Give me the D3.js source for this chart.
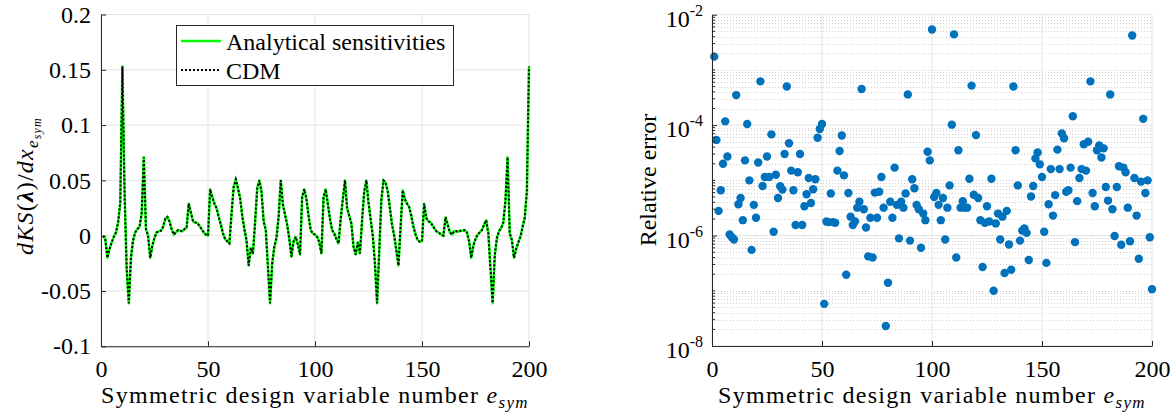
<!DOCTYPE html>
<html><head><meta charset="utf-8">
<script src="https://cdn.jsdelivr.net/npm/d3@7/dist/d3.min.js"></script>
<style>
html,body{margin:0;padding:0;background:#fff;}
svg{display:block;font-family:'Liberation Serif','Times New Roman',serif;}
</style></head>
<body>
<svg id="chart" width="1176" height="414"></svg>
<script>
// ---------- data ----------
// design variable numbers 1..200
const designVars = d3.range(1, 201);
// dKS(lambda)/dx for each symmetric design variable (analytical)
const analytical = [
 0,-0.003,-0.020,-0.012,-0.006,-0.001,0.003,0.012,0.030,0.153,
 0.040,-0.030,-0.061,-0.020,-0.004,0.003,0.006,0.008,0.020,0.071,
 0.006,0.000,-0.020,-0.009,-0.002,0.003,0.004,0.0045,0.008,0.015,
 0.017,0.013,0.006,0.001,0.003,0.005,0.0045,0.004,0.006,0.007,
 0.029,0.021,0.013,0.012,0.0115,0.009,0.006,0.003,0.001,0.000,
 0.042,0.035,0.029,0.025,0.017,0.010,0.002,-0.003,-0.005,-0.007,
 0.020,0.044,0.051,0.043,0.034,0.018,0.006,-0.004,-0.027,-0.011,
 -0.016,0.012,0.043,0.050,0.040,0.013,0.005,-0.028,-0.061,-0.025,
 -0.010,-0.002,0.017,0.050,0.028,0.019,0.010,-0.003,-0.019,-0.005,
 -0.001,-0.008,-0.017,0.035,0.042,0.033,0.018,0.005,0.002,0.001,
 -0.001,-0.006,-0.016,0.035,0.042,0.029,0.015,0.005,0.002,-0.003,
 -0.007,0.015,0.033,0.050,0.025,0.018,0.011,-0.010,-0.017,-0.006,
 -0.016,0.014,0.040,0.050,0.030,0.015,0.000,-0.025,-0.061,-0.015,
 0.032,0.050,0.048,0.040,0.025,0.010,0.000,-0.013,-0.027,0.008,
 0.041,0.033,0.029,0.026,0.018,0.008,0.001,-0.004,-0.0055,-0.005,
 0.029,0.016,0.013,0.012,0.009,0.006,0.0035,0.0025,0.001,0.000,
 0.0166,0.010,0.003,0.001,0.004,0.004,0.0036,0.0045,0.0045,0.005,
 0.003,-0.005,-0.020,-0.009,-0.003,0.001,0.003,0.005,0.010,0.014,
 0.002,-0.030,-0.061,-0.018,-0.002,0.004,0.007,0.012,0.032,0.071,
 0.002,-0.004,-0.020,-0.012,-0.006,-0.001,0.008,0.016,0.040,0.153
];
// central difference (CDM) values, visually identical to the analytical ones
const cdm = analytical.slice();
// relative error between the two
const relError = [
 1.74e-3,5.4e-5,2.8e-6,6.6e-6,2.0e-5,1.17e-4,2.7e-5,1.05e-6,9.3e-7,8.5e-7,
 3.5e-4,3.7e-6,4.8e-6,1.9e-6,2.3e-5,1.05e-4,1.0e-5,5.5e-7,3.6e-6,2.1e-6,
 2.1e-5,6.2e-4,7.9e-6,1.15e-5,2.7e-5,1.15e-5,6.8e-5,1.17e-6,1.26e-5,4.8e-6,
 7.8e-6,6.8e-6,3.0e-5,5.0e-4,4.7e-5,1.5e-5,6.6e-6,1.55e-6,1.4e-5,3.0e-5,
 1.55e-6,3.4e-6,5.6e-6,1.1e-5,3.9e-6,6.9e-6,1.05e-5,5.9e-5,8.5e-5,1.05e-4,
 5.8e-8,1.8e-6,1.75e-6,5.8e-6,1.75e-6,1.7e-6,1.5e-5,3.4e-5,6.5e-5,1.23e-5,
 1.95e-7,5.9e-6,2.2e-6,1.55e-6,1.8e-6,3.2e-6,4.1e-6,4.5e-4,3.0e-6,1.4e-6,
 4.2e-7,2.1e-6,4.0e-7,6.0e-6,2.1e-6,6.2e-6,1.15e-5,3.2e-6,2.3e-8,1.4e-7,
 4.1e-6,2.1e-6,1.7e-5,3.6e-6,8.9e-7,4.1e-6,3.2e-6,5.8e-6,3.6e-4,8.1e-7,
 1.05e-5,7.2e-6,3.6e-6,3.0e-6,6.0e-7,2.5e-6,1.9e-6,3.3e-5,2.3e-5,5.4e-3,
 5.0e-6,5.9e-6,3.6e-6,1.9e-6,4.8e-6,8.5e-7,3.2e-6,8.1e-6,1.02e-4,4.4e-3,
 4.0e-7,3.5e-5,3.2e-6,4.2e-6,3.2e-6,3.2e-6,1.07e-5,5.2e-4,5.5e-6,6.6e-5,
 4.8e-6,1.9e-6,2.7e-7,1.7e-6,3.4e-6,1.8e-6,1.07e-5,1.0e-7,1.66e-6,2.5e-6,
 8.5e-7,2.2e-6,2.1e-7,2.8e-6,6.9e-7,2.4e-7,5.0e-4,3.5e-5,8.1e-6,8.1e-7,
 1.23e-6,1.35e-6,1.12e-6,3.6e-7,5.1e-6,7.9e-6,2.5e-5,3.2e-5,1.95e-5,1.15e-5,
 1.17e-6,3.2e-7,3.7e-6,1.6e-5,2.3e-6,5.4e-6,3.6e-5,1.6e-5,7.1e-5,5.8e-5,
 6.2e-6,6.6e-6,1.7e-5,1.45e-4,7.6e-7,4.2e-6,1.1e-5,1.6e-5,4.5e-5,1.5e-5,
 5.0e-5,6.2e-4,5.9e-6,3.4e-6,3.5e-5,4.3e-5,2.6e-5,3.8e-5,7.6e-6,4.3e-6,
 3.6e-4,3.0e-6,9.8e-7,7.6e-6,1.8e-5,6.8e-7,1.7e-5,1.4e-5,3.2e-6,7.9e-7,
 4.2e-3,1.1e-5,2.3e-6,3.8e-7,9.5e-6,1.3e-4,5.9e-6,1.0e-5,9.3e-7,1.07e-7
];
const xTicks = [0, 50, 100, 150, 200];
const xTickLabels = ["0", "50", "100", "150", "200"];
const yTicksLeft = [-0.1, -0.05, 0, 0.05, 0.1, 0.15, 0.2];
const yTickLabelsLeft = ["-0.1", "-0.05", "0", "0.05", "0.1", "0.15", "0.2"];
const yTicksRight = [1e-8, 1e-6, 1e-4, 1e-2];
const yTickExpRight = ["-8", "-6", "-4", "-2"];
const legendLabels = ["Analytical sensitivities", "CDM"];

// ---------- layout ----------
const svg = d3.select("#chart");
const axisColor = "#262626", gridColor = "#e3e3e3", minorGridColor = "#cfcfcf";
const FS = 24;

const xL = d3.scaleLinear().domain([0, 200]).range([101, 529]);
const yL = d3.scaleLinear().domain([-0.1, 0.2]).range([346.3, 14.5]);
const xR = d3.scaleLinear().domain([0, 200]).range([712, 1152]);
const yR = d3.scaleLog().domain([1e-8, 1e-2]).range([346, 14.7]);

// ---------- LEFT PLOT ----------
const gL = svg.append("g");
gL.selectAll(".vg").data(xTicks).enter().append("line")
  .attr("x1", d => xL(d)).attr("x2", d => xL(d))
  .attr("y1", yL(-0.1)).attr("y2", yL(0.2))
  .attr("stroke", gridColor).attr("stroke-width", 1);
gL.selectAll(".hg").data(yTicksLeft).enter().append("line")
  .attr("x1", xL(0)).attr("x2", xL(200))
  .attr("y1", d => yL(d)).attr("y2", d => yL(d))
  .attr("stroke", gridColor).attr("stroke-width", 1);

const lineL = d3.line().x((d, i) => xL(designVars[i])).y(d => yL(d));
gL.append("path").datum(analytical).attr("d", lineL)
  .attr("fill", "none").attr("stroke", "#00ff00").attr("stroke-width", 2.5)
  .attr("stroke-linejoin", "round");
gL.append("path").datum(cdm).attr("d", lineL)
  .attr("fill", "none").attr("stroke", "#000").attr("stroke-width", 2)
  .attr("stroke-dasharray", "2,2");

const axBL = gL.append("g").attr("transform", `translate(0,${yL(-0.1)})`)
  .call(d3.axisBottom(xL).tickValues(xTicks).tickFormat((d, i) => xTickLabels[i]).tickSize(-5).tickSizeOuter(0));
gL.append("g").attr("transform", `translate(${xL(0)},0)`)
  .call(d3.axisLeft(yL).tickValues(yTicksLeft).tickFormat((d, i) => yTickLabelsLeft[i]).tickSize(-5).tickSizeOuter(0).tickPadding(10));

// legend
const lg = gL.append("g");
lg.append("rect").attr("x", 176.5).attr("y", 25.5).attr("width", 277).attr("height", 60)
  .attr("fill", "#fff").attr("stroke", axisColor).attr("stroke-width", 1);
lg.append("line").attr("x1", 181).attr("x2", 221).attr("y1", 41).attr("y2", 41)
  .attr("stroke", "#00ff00").attr("stroke-width", 2.5);
lg.append("line").attr("x1", 181).attr("x2", 221).attr("y1", 70).attr("y2", 70)
  .attr("stroke", "#000").attr("stroke-width", 2).attr("stroke-dasharray", "2,2");
lg.selectAll(".lt").data(legendLabels).enter().append("text")
  .attr("x", 226).attr("y", (d, i) => 50 + i * 29)
  .attr("font-size", FS).attr("fill", "#000").text(d => d);

// y label left
const ylL = gL.append("text").attr("transform", "translate(33,186) rotate(-90)")
  .attr("text-anchor", "middle").attr("font-size", FS).attr("fill", "#000")
  .attr("letter-spacing", 1.2);
ylL.append("tspan").attr("font-style", "italic").text("dKS");
ylL.append("tspan").text("(");
ylL.append("tspan").attr("font-weight", "bold").attr("font-style", "italic").text("λ");
ylL.append("tspan").text(")/");
ylL.append("tspan").attr("font-style", "italic").text("dx");
ylL.append("tspan").attr("font-style", "italic").attr("font-size", 17).attr("dy", 5).text("e");
ylL.append("tspan").attr("font-style", "italic").attr("font-size", 12).attr("dy", 3).text("sym");

// ---------- RIGHT PLOT ----------
const gR = svg.append("g");
const minorVals = [];
for (let e = -8; e < -2; e++) for (let k = 1; k <= 9; k++) {
  const v = k * Math.pow(10, e);
  if (!(k === 1 && e % 2 === 0)) minorVals.push(v);
}
gR.selectAll(".mg").data(minorVals).enter().append("line")
  .attr("x1", xR(0)).attr("x2", xR(200))
  .attr("y1", d => Math.round(yR(d)) + 0.5).attr("y2", d => Math.round(yR(d)) + 0.5)
  .attr("stroke", minorGridColor).attr("stroke-width", 1).attr("stroke-dasharray", "1,2");
gR.selectAll(".vg").data(xTicks).enter().append("line")
  .attr("x1", d => xR(d)).attr("x2", d => xR(d))
  .attr("y1", yR(1e-8)).attr("y2", yR(1e-2))
  .attr("stroke", gridColor).attr("stroke-width", 1);
gR.selectAll(".hg").data(yTicksRight).enter().append("line")
  .attr("x1", xR(0)).attr("x2", xR(200))
  .attr("y1", d => yR(d)).attr("y2", d => yR(d))
  .attr("stroke", gridColor).attr("stroke-width", 1);

gR.selectAll(".pt").data(relError).enter().append("circle")
  .attr("cx", (d, i) => xR(designVars[i])).attr("cy", d => yR(d))
  .attr("r", 4.2).attr("fill", "#0072BD");

const axBR = gR.append("g").attr("transform", `translate(0,${yR(1e-8)})`)
  .call(d3.axisBottom(xR).tickValues(xTicks).tickFormat((d, i) => xTickLabels[i]).tickSize(-5).tickSizeOuter(0));
const axRL = gR.append("g").attr("transform", `translate(${xR(0)},0)`)
  .call(d3.axisLeft(yR).tickValues(yTicksRight).tickFormat(() => "").tickSize(-5).tickSizeOuter(0));
axRL.selectAll(".minor").data(minorVals).enter().append("line")
  .attr("x1", 0).attr("x2", 3).attr("y1", d => yR(d)).attr("y2", d => yR(d))
  .attr("stroke", axisColor).attr("stroke-width", 1);
const tl = gR.selectAll(".ytl").data(yTicksRight).enter().append("text")
  .attr("x", 703).attr("y", d => yR(d) + 12).attr("text-anchor", "end")
  .attr("font-size", FS).attr("fill", "#000");
tl.append("tspan").text("10");
tl.append("tspan").attr("font-size", 16).attr("dy", -11).text((d, i) => yTickExpRight[i]);

gR.append("text").attr("transform", "translate(656,180) rotate(-90)")
  .attr("text-anchor", "middle").attr("font-size", FS).attr("fill", "#000").text("Relative error");

// ---------- common axis styling ----------
svg.selectAll(".domain").attr("stroke", axisColor).attr("stroke-width", 1);
svg.selectAll(".tick line").attr("stroke", axisColor);
svg.selectAll(".tick text").attr("font-size", FS).attr("fill", "#000")
  .attr("font-family", "'Liberation Serif','Times New Roman',serif");
axBL.selectAll(".tick text").attr("y", 31).attr("dy", null);
axBR.selectAll(".tick text").attr("y", 31).attr("dy", null);

// x labels
[315, 932].forEach(cx => {
  const t = svg.append("text").attr("x", cx).attr("y", 403).attr("text-anchor", "middle")
    .attr("font-size", FS).attr("fill", "#000").attr("letter-spacing", 1.3);
  t.append("tspan").text("Symmetric design variable number ");
  t.append("tspan").attr("font-style", "italic").text("e");
  t.append("tspan").attr("font-style", "italic").attr("font-size", 17).attr("dy", 5).text("sym");
});
</script>
</body></html>
